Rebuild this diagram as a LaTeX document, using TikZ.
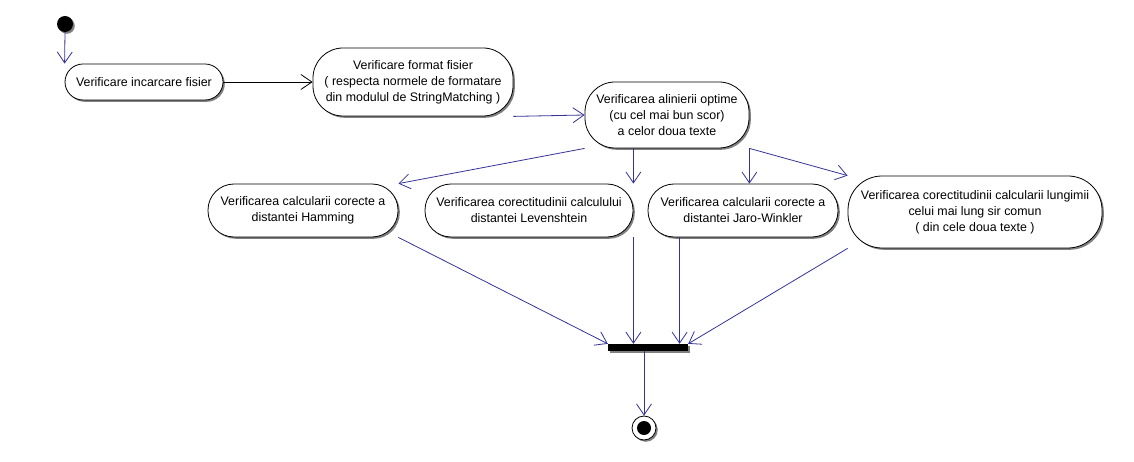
\documentclass[tikz,border=0pt]{standalone}
\usepackage{fontspec}
\setmainfont{Liberation Sans}
\usetikzlibrary{arrows.meta,shadows,calc}
\definecolor{edgeblue}{RGB}{51,51,153}
\tikzset{
  shad/.style={drop shadow={shadow xshift=1.8pt,shadow yshift=-1.8pt,fill=black!50,opacity=1}},
  act/.style={draw=black,line width=0.8pt,fill=white,align=center,inner sep=0pt,
    font=\fontsize{12.4}{16}\selectfont,shad},
  flow/.style={draw=edgeblue,line width=0.8pt,-{Straight Barb[length=11pt,width=15pt,line width=0.8pt]}},
  blackflow/.style={draw=black,line width=0.8pt,-{Straight Barb[length=11pt,width=15pt,line width=0.8pt]}}
}
\begin{document}
\begin{tikzpicture}[x=1pt,y=-1pt]
\useasboundingbox (0,0) rectangle (1134,462);
\node[circle,fill=black,minimum size=16pt,inner sep=0pt,shad] (start) at (65,24) {};
\node[act,minimum width=158pt,minimum height=36pt,rounded corners=18pt] (n1) at (144,82) {Verificare incarcare fisier};
\node[act,minimum width=200pt,minimum height=68pt,rounded corners=30pt] (n2) at (413,82) {Verificare format fisier\\( respecta normele de formatare\\din modulul de StringMatching )};
\node[act,minimum width=164pt,minimum height=66pt,rounded corners=30pt] (n3) at (667,115) {Verificarea alinierii optime\\(cu cel mai bun scor)\\a celor doua texte};
\node[act,minimum width=190pt,minimum height=53pt,rounded corners=26pt] (n4) at (303,210.5) {Verificarea calcularii corecte a\\distantei Hamming};
\node[act,minimum width=208pt,minimum height=53pt,rounded corners=26pt] (n5) at (529,210.5) {Verificarea corectitudinii calculului\\distantei Levenshtein};
\node[act,minimum width=190pt,minimum height=53pt,rounded corners=26pt] (n6) at (743,210.5) {Verificarea calcularii corecte a\\distantei Jaro-Winkler};
\node[act,minimum width=254pt,minimum height=72pt,rounded corners=34pt] (n7) at (975,212) {Verificarea corectitudinii calcularii lungimii\\celui mai lung sir comun\\( din cele doua texte )};
\node[fill=black,minimum width=80pt,minimum height=7pt,inner sep=0pt,shad] (bar) at (648,347.5) {};
\node[circle,draw=black,fill=white,line width=0.8pt,minimum size=24pt,inner sep=0pt,shad] (end) at (644,428) {};
\node[circle,fill=black,minimum size=14pt,inner sep=0pt] (endin) at (end.center) {};
\coordinate (j6) at ([xshift=32pt]n6.south west);
\draw[flow] (start.south) -- (n1.north west);
\draw[blackflow] (n1.east) -- (n2.west);
\draw[flow] (n2.south east) -- (n3.west);
\draw[flow] (n3.south west) -- (n4.north east);
\draw[flow] (n5.north east |- n3.south) -- (n5.north east);
\draw[flow] (n3.south east) -- (n3.south east |- n6.north);
\draw[flow] (n3.south east) -- (n7.north west);
\draw[flow] (n4.south east) -- (bar.north west);
\draw[flow] (n5.south east) -- (n5.south east |- bar.north);
\draw[flow] (j6) -- (j6 |- bar.north);
\draw[flow] (n7.south west) -- (bar.north east);
\draw[flow] (bar.south -| end.center) -- (end.north);
\end{tikzpicture}
\end{document}
